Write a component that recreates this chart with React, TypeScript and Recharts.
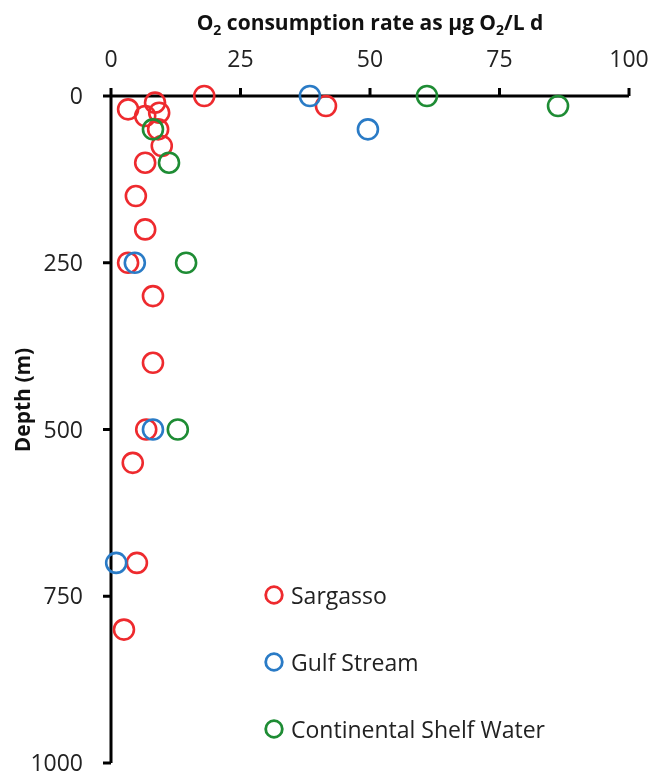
import React from "react";
import { ScatterChart, Scatter, XAxis, YAxis } from "recharts";

// O2 consumption rate (µg O2/L d) versus depth (m) per water mass
const sargassoRate = [18, 41.5, 8.5, 3.3, 9.3, 6.6, 9.1, 9.8, 6.6, 4.8, 6.6, 3.3, 8.1, 8.1, 6.8, 4.2, 5, 2.5];
const sargassoDepth = [0, 15, 10, 20, 25, 30, 50, 75, 100, 150, 200, 250, 300, 400, 500, 550, 700, 800];

const gulfRate = [38.4, 49.6, 4.6, 8.1, 1.0];
const gulfDepth = [0, 50, 250, 500, 700];

const shelfRate = [61, 86.3, 8.1, 11.2, 14.5, 12.9];
const shelfDepth = [0, 15, 50, 100, 250, 500];

const rateTicks = [0, 25, 50, 75, 100];
const depthTicks = [0, 250, 500, 750, 1000];

const seriesNames = ["Sargasso", "Gulf Stream", "Continental Shelf Water"];
const seriesColors = ["#EE2A2E", "#2A7BC6", "#1E8C34"];

const toPoints = (rates: number[], depths: number[]) =>
  rates.map((rate, i) => ({ rate, depth: depths[i] }));

const sargasso = toPoints(sargassoRate, sargassoDepth);
const gulf = toPoints(gulfRate, gulfDepth);
const shelf = toPoints(shelfRate, shelfDepth);

const FONT = "'Open Sans', sans-serif";

const ring = (color: string) => (props: any) => (
  <circle cx={props.cx} cy={props.cy} r={10} fill="none" stroke={color} strokeWidth={2.6} />
);

export default function App() {
  return (
    <div
      style={{
        position: "fixed",
        left: 8,
        top: 8,
        width: 643,
        height: 780,
        fontFamily: FONT,
      }}
    >
      <ScatterChart
        width={643}
        height={780}
        margin={{ top: 28, right: 22, bottom: 25, left: 43 }}
      >
        <XAxis
          type="number"
          dataKey="rate"
          orientation="top"
          domain={[0, 100]}
          ticks={rateTicks}
          height={60}
          axisLine={{ stroke: "#000", strokeWidth: 3 }}
          tickLine={{ stroke: "#000", strokeWidth: 3 }}
          tickSize={8}
          tickMargin={21}
          tick={{ fill: "#222", fontSize: 23, fontFamily: FONT }}
        />
        <YAxis
          type="number"
          dataKey="depth"
          reversed
          domain={[0, 1000]}
          ticks={depthTicks}
          width={60}
          axisLine={{ stroke: "#000", strokeWidth: 3 }}
          tickLine={{ stroke: "#000", strokeWidth: 3 }}
          tickSize={8}
          tickMargin={20}
          tick={{ fill: "#222", fontSize: 23, fontFamily: FONT }}
        />
        <Scatter name={seriesNames[0]} data={sargasso} shape={ring(seriesColors[0])} isAnimationActive={false} />
        <Scatter name={seriesNames[1]} data={gulf} shape={ring(seriesColors[1])} isAnimationActive={false} />
        <Scatter name={seriesNames[2]} data={shelf} shape={ring(seriesColors[2])} isAnimationActive={false} />
      </ScatterChart>

      <div
        style={{
          position: "absolute",
          left: 103,
          width: 518,
          top: 0,
          textAlign: "center",
          fontWeight: 700,
          fontSize: 21,
          color: "#111",
          lineHeight: "28px",
          whiteSpace: "nowrap",
        }}
      >
        O<sub style={{ fontSize: 14 }}>2</sub> consumption rate as µg O
        <sub style={{ fontSize: 14 }}>2</sub>/L d
      </div>

      <div
        style={{
          position: "absolute",
          left: 14,
          top: 392,
          transform: "translate(-50%, -50%) rotate(-90deg)",
          fontWeight: 700,
          fontSize: 21,
          color: "#111",
          whiteSpace: "nowrap",
        }}
      >
        Depth (m)
      </div>

      <div style={{ position: "absolute", left: 255, top: 553 }}>
        {seriesNames.map((name, i) => (
          <div key={name} style={{ display: "flex", alignItems: "center", height: 67 }}>
            <svg width={22} height={22} style={{ marginRight: 6 }}>
              <circle cx={11} cy={11} r={8.3} fill="none" stroke={seriesColors[i]} strokeWidth={2.8} />
            </svg>
            <span style={{ fontSize: 23, color: "#222" }}>{name}</span>
          </div>
        ))}
      </div>
    </div>
  );
}
